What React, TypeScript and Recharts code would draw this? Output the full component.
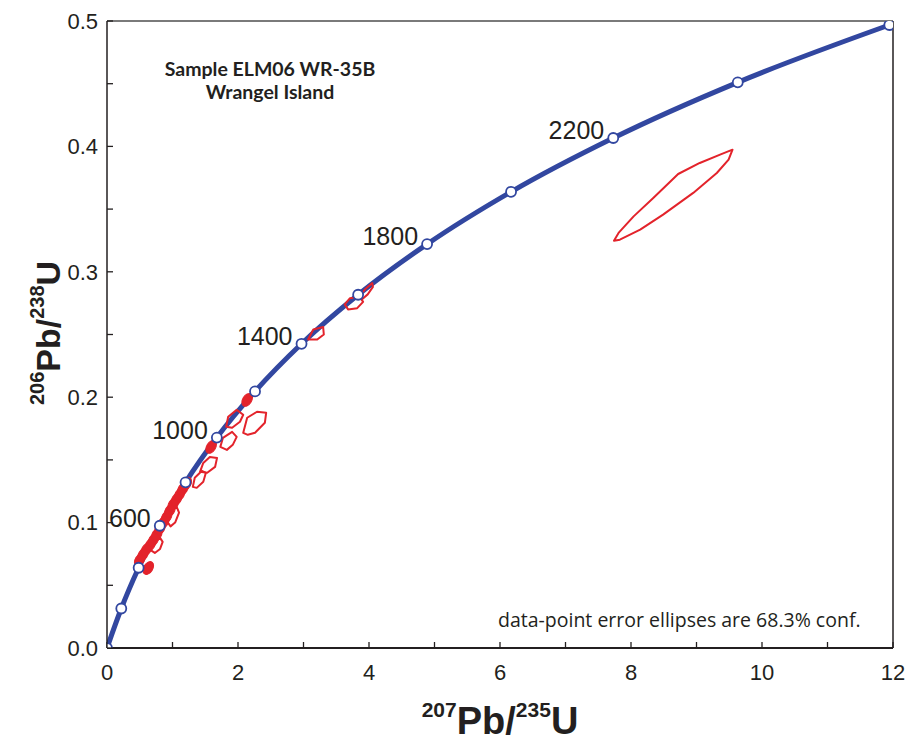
import React from 'react'
import { ComposedChart, Line, Scatter, XAxis, YAxis, ReferenceLine } from 'recharts'

// concordia marks every 200 Ma
const concordiaAges = [0, 200, 400, 600, 800, 1000, 1200, 1400, 1600, 1800, 2000, 2200, 2400, 2600]
const concordiaX = [0, 0.218, 0.483, 0.806, 1.199, 1.677, 2.26, 2.97, 3.834, 4.887, 6.169, 7.729, 9.63, 11.944]
const concordiaY = [0, 0.0315, 0.064, 0.0975, 0.1321, 0.1678, 0.2046, 0.2426, 0.2817, 0.3221, 0.3638, 0.4067, 0.4511, 0.4968]
const labelledAges = [600, 1000, 1400, 1800, 2200]

// error ellipse outlines, [207Pb/235U, 206Pb/238U]
const ellipseBig = [
  [7.74, 0.3248], [7.81, 0.331], [8.04, 0.3442], [8.34, 0.3589], [8.72, 0.378], [9.05, 0.3868], [9.36, 0.3935],
  [9.55, 0.3974], [9.49, 0.3895], [9.31, 0.3788], [8.95, 0.3629], [8.49, 0.3456], [8.14, 0.3336], [7.83, 0.3256]
]
const ellipseA = [[3.07, 0.246], [3.15, 0.254], [3.3, 0.256], [3.31, 0.25], [3.21, 0.246]]
const ellipseB = [[3.63, 0.274], [3.71, 0.279], [3.86, 0.28], [3.91, 0.276], [3.82, 0.271], [3.68, 0.27]]
const ellipseC = [[3.83, 0.279], [3.94, 0.286], [4.05, 0.291], [4.06, 0.288], [3.98, 0.282], [3.89, 0.278]]
const ellipseD = [[2.08, 0.1716], [2.14, 0.1836], [2.29, 0.1884], [2.43, 0.1876], [2.41, 0.1796], [2.26, 0.1716], [2.15, 0.17]]
const ellipseE = [[1.82, 0.1764], [1.85, 0.1844], [1.98, 0.1899], [2.08, 0.186], [2.03, 0.1804], [1.91, 0.1756]]
const ellipseF = [[1.73, 0.1604], [1.77, 0.1676], [1.91, 0.1724], [1.98, 0.1684], [1.92, 0.162], [1.83, 0.158]]
const ellipseG = [[1.42, 0.1405], [1.47, 0.1476], [1.57, 0.1524], [1.68, 0.1516], [1.65, 0.1444], [1.53, 0.1397]]
const ellipseH = [[1.31, 0.1285], [1.34, 0.1357], [1.45, 0.1413], [1.51, 0.1397], [1.47, 0.1325], [1.37, 0.1277]]
const ellipseI = [[0.66, 0.0782], [0.7, 0.0838], [0.81, 0.0878], [0.85, 0.0846], [0.81, 0.079], [0.73, 0.0758]]
const ellipseJ = [[0.93, 0.1], [0.97, 0.108], [1.06, 0.113], [1.1, 0.108], [1.04, 0.1], [0.97, 0.097]]
const ellipses = [ellipseBig, ellipseA, ellipseB, ellipseC, ellipseD, ellipseE, ellipseF, ellipseG, ellipseH, ellipseI, ellipseJ]

// tiny overlapping ellipses hugging the curve
const blobX = [0.5, 0.55, 0.6, 0.66, 0.71, 0.76, 0.81, 0.86, 0.91, 0.96, 1.01, 1.06, 1.11, 1.16, 1.21, 1.59, 2.14, 0.63]
const blobY = [0.0702, 0.0745, 0.0785, 0.0822, 0.0862, 0.0905, 0.0955, 0.1, 0.1045, 0.1095, 0.1145, 0.1185, 0.1225, 0.127, 0.131, 0.1604, 0.1979, 0.0638]

const xTicks = [0, 1, 2, 3, 4, 5, 6, 7, 8, 9, 10, 11, 12]
const yTicks = [0, 0.05, 0.1, 0.15, 0.2, 0.25, 0.3, 0.35, 0.4, 0.45, 0.5]

const ink = '#231f20'
const blue = '#3247a0'
const red = '#e3232b'
const sans = '"Liberation Sans", Arial, sans-serif'

const concordia = concordiaX.map((x, i) => ({ x, y: concordiaY[i], age: concordiaAges[i] }))
const blobs = blobX.map((x, i) => ({ x, y: blobY[i] }))

const XTick = ({ x, y, payload }: any) => {
  const axisY = y - 16
  const v = payload.value
  return (
    <g>
      <line x1={x} x2={x} y1={axisY} y2={axisY - 6} stroke={ink} strokeWidth={1.3} />
      {v % 2 === 0 && (
        <text x={x} y={y} dy="0.71em" textAnchor="middle" fontFamily={sans} fontSize={22} fill={ink}>
          {v}
        </text>
      )}
    </g>
  )
}

const YTick = ({ x, y, payload }: any) => {
  const axisX = x + 9
  const v = payload.value
  const major = Math.round(v * 100) % 10 === 0
  return (
    <g>
      <line x1={axisX} x2={axisX + 6} y1={y} y2={y} stroke={ink} strokeWidth={1.3} />
      {major && (
        <text x={x} y={y} dy="0.355em" textAnchor="end" fontFamily={sans} fontSize={22} fill={ink}>
          {v.toFixed(1)}
        </text>
      )}
    </g>
  )
}

const Marker = ({ cx, cy, payload }: any) => (
  <g>
    <circle cx={cx} cy={cy} r={5} fill="#fff" stroke={blue} strokeWidth={1.8} />
    {labelledAges.includes(payload.age) && (
      <text x={cx - 9} y={cy + 1} textAnchor="end" fontFamily={sans} fontSize={25} fill={ink}>
        {payload.age}
      </text>
    )}
  </g>
)

const Blob = ({ cx, cy }: any) => (
  <ellipse cx={cx} cy={cy} rx={7} ry={4.5} transform={`rotate(-58 ${cx} ${cy})`} fill={red} stroke={red} strokeWidth={1} />
)

export default function App() {
  return (
    <div style={{ position: 'absolute', left: 0, top: 0, width: 908, height: 744, background: '#fff' }}>
      <ComposedChart width={908} height={744} margin={{ top: 21, right: 15, bottom: 0, left: 0 }}>
        <XAxis
          type="number"
          dataKey="x"
          domain={[0, 12]}
          ticks={xTicks}
          allowDataOverflow
          height={96}
          tickSize={0}
          tickMargin={16}
          tickLine={false}
          tick={<XTick />}
          axisLine={{ stroke: ink, strokeWidth: 2 }}
        />
        <YAxis
          type="number"
          dataKey="y"
          domain={[0, 0.5]}
          ticks={yTicks}
          allowDataOverflow
          width={107}
          tickSize={0}
          tickMargin={9}
          tickLine={false}
          tick={<YTick />}
          axisLine={{ stroke: ink, strokeWidth: 1.5 }}
        />
        <ReferenceLine y={0.5} stroke="#7a7a7a" strokeWidth={2} />
        <ReferenceLine x={12} stroke={ink} strokeWidth={1.5} />
        <Line
          data={concordia}
          dataKey="y"
          type="monotone"
          stroke={blue}
          strokeWidth={5}
          dot={false}
          activeDot={false}
          isAnimationActive={false}
        />
        {ellipses.map((pts, k) => (
          <Line
            key={k}
            data={pts.map(([x, y]) => ({ x, y }))}
            dataKey="y"
            type="linearClosed"
            stroke={red}
            strokeWidth={2}
            strokeLinejoin="round"
            dot={false}
            activeDot={false}
            isAnimationActive={false}
          />
        ))}
        <Scatter data={blobs} dataKey="y" shape={<Blob />} isAnimationActive={false} />
        <Scatter data={concordia} dataKey="y" shape={<Marker />} isAnimationActive={false} />
      </ComposedChart>
      <svg width={908} height={744} style={{ position: 'absolute', left: 0, top: 0, pointerEvents: 'none' }}>
        <g fontFamily="Lato, sans-serif" fontWeight="bold" fontSize={19.5} fill={ink} textAnchor="middle">
          <text x={270} y={76}>Sample ELM06 WR-35B</text>
          <text x={270} y={99}>Wrangel Island</text>
        </g>
        <text x={498} y={627} fontFamily='"Open Sans", sans-serif' fontSize={19.5} fill={ink}>
          data-point error ellipses are 68.3% conf.
        </text>
        <text x={500} y={734} textAnchor="middle" fontFamily={sans} fontWeight="bold" fill={ink}>
          <tspan fontSize={21} dy={-17}>207</tspan>
          <tspan fontSize={38} dy={17}>Pb/</tspan>
          <tspan fontSize={21} dy={-17}>235</tspan>
          <tspan fontSize={38} dy={17}>U</tspan>
        </text>
        <text transform="translate(60,333) rotate(-90)" textAnchor="middle" fontFamily={sans} fontWeight="bold" fill={ink}>
          <tspan fontSize={20} dy={-16}>206</tspan>
          <tspan fontSize={34} dy={16}>Pb/</tspan>
          <tspan fontSize={20} dy={-16}>238</tspan>
          <tspan fontSize={34} dy={16}>U</tspan>
        </text>
      </svg>
    </div>
  )
}
